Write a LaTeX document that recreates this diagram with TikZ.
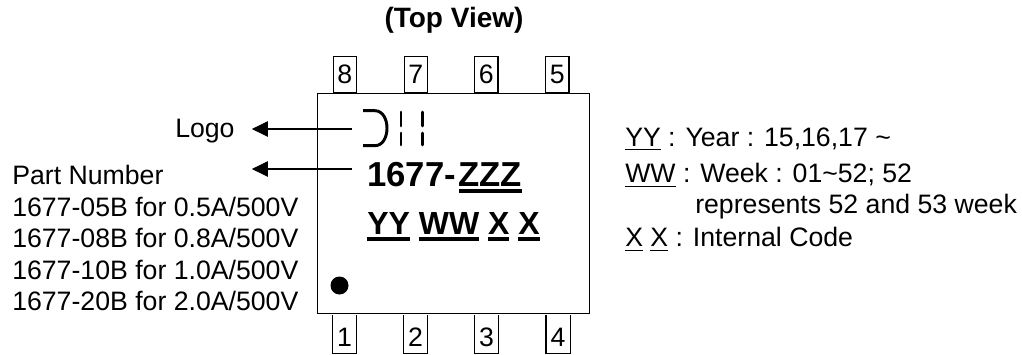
\documentclass[tikz,border=0pt]{standalone}
\usepackage{fontspec}
\setmainfont{Liberation Sans}
\usetikzlibrary{arrows.meta,positioning}
\newcommand{\ulthin}[1]{\setbox0\hbox{#1}\rlap{\rule[-3pt]{\wd0}{0.8pt}}\box0\relax}
\newcommand{\ulbold}[1]{\setbox0\hbox{#1}\rlap{\rule[-4.6pt]{\wd0}{3pt}}\box0\relax}
\begin{document}
\begin{tikzpicture}[
    x=0.75pt, y=-0.75pt,
    chip/.style={rectangle, draw, line width=0.8pt, minimum width=204.15pt, minimum height=164.85pt, inner sep=0pt},
    toppin/.style={rectangle, draw, line width=0.8pt, anchor=south west, minimum width=17.6pt, minimum height=27.4pt, inner sep=0pt, font=\fontsize{20pt}{23pt}\selectfont},
    botpin/.style={rectangle, anchor=north west, minimum width=17.8pt, minimum height=28.5pt, inner sep=0pt, text height=18pt, text depth=0pt, font=\fontsize{20pt}{23pt}\selectfont},
    pinside/.style={line width=0.8pt},
    label/.style={anchor=base west, inner sep=0pt, font=\fontsize{20pt}{23pt}\selectfont},
    partmarking/.style={anchor=base west, inner sep=0pt, font=\fontsize{26pt}{30pt}\selectfont\bfseries},
    codemarking/.style={anchor=base west, inner sep=0pt, font=\fontsize{24pt}{28pt}\selectfont\bfseries},
    arrow/.style={-{Triangle[length=12pt,width=11.5pt]}, line width=0.8pt},
    logostroke/.style={line width=2.2pt}
]
\useasboundingbox (0,0) rectangle (1022,354);
% Package
\node[chip] (body) at (453.6,203.4) {};

% Pins
\node[toppin] (pin8) at (332.5,93.5) {8};
\node[toppin] (pin7) at (403.5,93.5) {7};
\node[toppin] (pin6) at (474,93.5) {6};
\node[toppin] (pin5) at (545,93.5) {5};
\node[botpin] (pin1) at (332.5,315) {1};
\node[botpin] (pin2) at (403.5,315) {2};
\node[botpin] (pin3) at (474.5,315) {3};
\node[botpin] (pin4) at (546,315) {4};
\draw[pinside] (pin1.north west) -- (pin1.south west) -- (pin1.south east) -- (pin1.north east);
\draw[pinside] (pin2.north west) -- (pin2.south west) -- (pin2.south east) -- (pin2.north east);
\draw[pinside] (pin3.north west) -- (pin3.south west) -- (pin3.south east) -- (pin3.north east);
\draw[pinside] (pin4.north west) -- (pin4.south west) -- (pin4.south east) -- (pin4.north east);

% Logo
\draw[logostroke] (363,110.7) -- (375,110.7) .. controls (391,111) and (391,145.4) .. (375,145.7) -- (363,145.7);
\draw[logostroke, line cap=round] (401,112) -- (401,126);
\draw[logostroke, line cap=round] (401,133) -- (401,145);
\draw[logostroke, line cap=round] (422.7,112) -- (422.7,126);
\draw[logostroke, line cap=round] (422.7,133) -- (422.7,145);

% Pin 1 dot
\fill (339.5,285.5) circle (9);

% Markings
\node[partmarking] (partmark) at (367,186.5) {1677-\kern2pt\ulbold{ZZZ}};
\node[codemarking] (codemark) at (367,234.5) {\ulbold{YY} \ulbold{WW} \ulbold{X} \ulbold{X}};

% Title
\node[anchor=base, inner sep=0pt, font=\fontsize{21pt}{24pt}\selectfont\bfseries] (title) at (454,27) {(Top View)};

% Left labels
\node[label] (logolabel) at (175,137.5) {Logo};
\node[label] (partlabel) at (12,184) {Part Number};
\node[label] (part05) at (12,216) {1677-05B for 0.5A/500V};
\node[label] (part08) at (12,247) {1677-08B for 0.8A/500V};
\node[label] (part10) at (12,279) {1677-10B for 1.0A/500V};
\node[label] (part20) at (12,310) {1677-20B for 2.0A/500V};

% Right labels
\node[label] (yylabel) at (625,146) {\ulthin{YY} : Year : 15,16,17 \textasciitilde};
\node[label] (wwlabel) at (625,182.7) {\ulthin{WW} : Week : 01\textasciitilde52; 52};
\node[label] (wwmore) at (695,213) {represents 52 and 53 week};
\node[label] (xxlabel) at (625,246.7) {\ulthin{X} \ulthin{X} : Internal Code};

% Arrows
\coordinate (logostart) at (352,129);
\coordinate (partstart) at (352,169);
\coordinate[right=12.75pt of logolabel.east] (logotip);
\draw[arrow] (logostart) -- (logotip |- logostart);
\draw[arrow] (partstart) -- (logotip |- partstart);
\end{tikzpicture}
\end{document}
